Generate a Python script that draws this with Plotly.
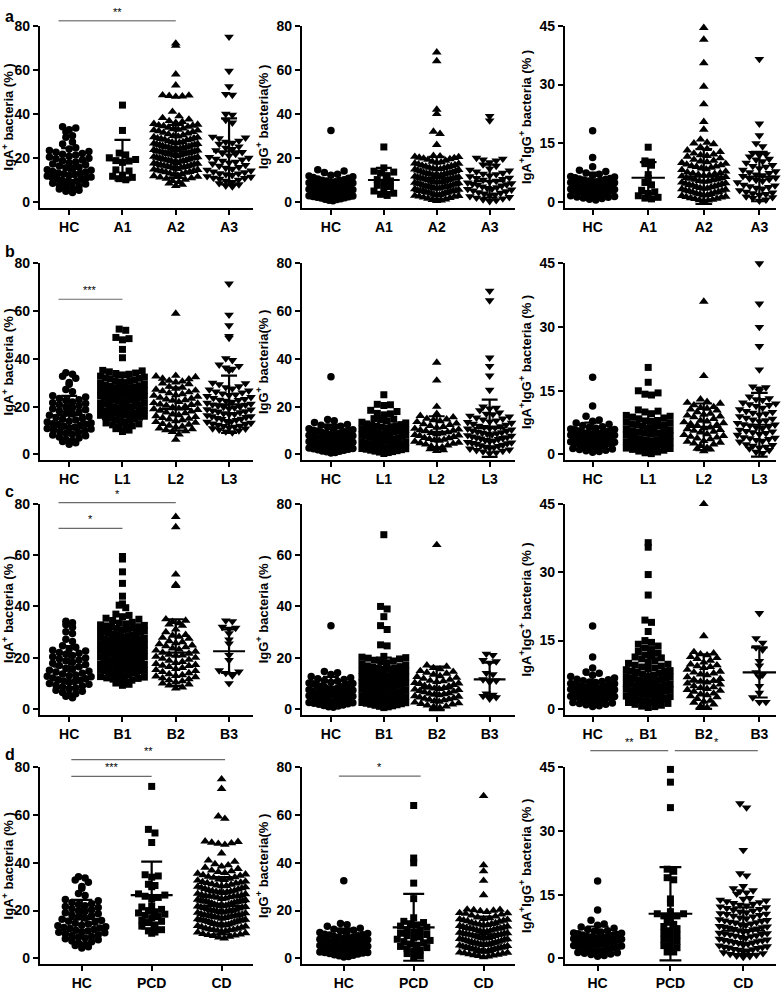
import plotly.graph_objects as go

# ---------------- data ----------------
CATS_A = ["HC", "A1", "A2", "A3"]
CATS_L = ["HC", "L1", "L2", "L3"]
CATS_B = ["HC", "B1", "B2", "B3"]
CATS_D = ["HC", "PCD", "CD"]

# healthy controls (same in every row of a column)
HC_IGA = [34.2, 33.6, 32.8, 31.9, 30.1, 29.4, 27.2, 26.3, 24.6, 24.1, 23.4, 22.9, 22.6, 22.0, 21.7, 21.3,
          20.8, 20.4, 19.9, 19.6, 19.1, 18.7, 18.2, 17.8, 17.3, 16.9, 16.4, 15.8, 15.5, 15.1, 14.7, 14.4,
          13.9, 13.6, 13.2, 12.9, 12.5, 12.1, 11.8, 11.4, 11.1, 10.7, 10.3, 9.9, 9.6, 9.2, 8.9, 8.5, 8.2,
          7.8, 7.3, 6.9, 6.4, 5.9, 5.4, 4.9, 4.3, 12.7, 10.9]
HC_IGG = [32.5, 14.6, 14.1, 13.4, 12.6, 12.2, 11.8, 11.5, 11.1, 10.8, 10.4, 10.1, 9.8, 9.5, 9.2, 8.9, 8.6,
          8.3, 8.0, 7.8, 7.5, 7.3, 7.0, 6.8, 6.5, 6.3, 6.1, 5.8, 5.6, 5.4, 5.1, 4.9, 4.7, 4.5, 4.2, 4.0,
          3.8, 3.6, 3.3, 3.1, 2.9, 2.7, 2.4, 2.2, 2.0, 1.8, 1.5, 1.3, 1.1, 0.8, 0.6, 6.6, 7.7, 8.8, 9.9,
          5.5, 4.4, 3.4, 2.5]
HC_DP = [18.2, 11.4, 9.0, 8.1, 7.8, 7.4, 7.1, 6.8, 6.5, 6.2, 6.0, 5.8, 5.6, 5.4, 5.2, 5.0, 4.9, 4.7, 4.6,
         4.4, 4.3, 4.1, 4.0, 3.9, 3.7, 3.6, 3.5, 3.3, 3.2, 3.0, 2.9, 2.8, 2.6, 2.5, 2.4, 2.2, 2.1, 2.0,
         1.8, 1.7, 1.6, 1.4, 1.3, 1.2, 1.0, 0.9, 0.7, 0.5, 5.5, 4.8, 4.2, 3.8, 3.4, 2.7, 6.4, 5.9, 5.1, 4.5]

# ---- IgA+ bacteria (%) ----
A1_IGA = [44.0, 32.5, 22.2, 21.4, 20.1, 19.3, 18.8, 18.6, 18.0, 14.6, 14.1, 12.2, 11.7, 11.2, 10.6, 10.1]
A2_IGA = [72.0, 71.0, 58.0, 53.0, 48.5, 48.0, 48.2, 47.8, 48.4, 41.0, 39.0, 38.2, 37.5,
          36.8, 36.0, 35.5, 36.4, 35.2, 34.5, 33.8, 34.9, 33.4, 34.2, 33.1, 34.7,
          32.6, 31.9, 32.9, 31.5, 32.2, 30.8, 31.2, 30.4, 32.5,
          30.0, 29.3, 29.8, 28.7, 29.5, 28.4, 29.0, 28.1, 28.9, 27.6, 28.3,
          27.3, 26.8, 27.0, 26.2, 26.6, 25.9, 27.1, 25.5, 26.4, 25.2, 26.0, 25.7,
          25.0, 24.4, 24.8, 23.9, 24.6, 23.5, 24.1, 23.2, 24.9, 23.7, 22.9, 24.3, 23.0,
          22.6, 22.1, 22.8, 21.5, 22.3, 21.2, 22.0, 20.9, 21.7, 20.6, 21.9, 20.4, 21.4, 20.2,
          20.0, 19.4, 19.8, 18.9, 19.6, 18.6, 19.2, 18.3, 19.9, 18.0, 18.7, 17.8, 19.0, 17.6,
          17.3, 16.7, 17.1, 16.2, 16.9, 15.9, 16.5, 15.6, 17.4, 15.3, 16.0, 15.1, 16.3,
          14.8, 14.2, 14.6, 13.7, 14.4, 13.3, 14.0, 13.0, 13.6, 12.7, 12.4, 12.1,
          11.8, 11.2, 11.5, 10.6, 10.9, 10.2, 9.6, 9.1, 8.5, 7.9, 7.3]
A3_IGA = [75.0, 59.5, 52.5, 49.0, 48.6, 40.0, 39.6, 37.2, 36.0, 29.6, 28.9, 29.2, 27.8, 26.9, 27.3, 26.4,
          25.2, 24.0, 24.6, 23.5, 22.6, 21.8, 22.2, 21.1, 20.4, 19.6, 20.0, 19.2, 18.7,
          18.2, 17.4, 17.9, 16.8, 16.4, 15.8, 15.0, 15.5, 14.6, 14.2, 13.8, 13.0, 13.5, 12.6, 12.2, 12.9,
          11.7, 11.0, 11.4, 10.5, 10.1, 10.8, 9.6, 9.0, 8.5, 8.0, 7.4, 7.0]
L1_IGA = [52.5, 52.0, 49.0, 48.5, 48.0, 44.0, 40.5, 35.2, 34.6, 35.0, 34.1,
          33.6, 32.8, 33.3, 32.4, 33.9, 32.1, 31.7, 30.8, 31.2, 30.3, 31.9, 30.1, 30.6,
          29.5, 28.8, 29.1, 28.3, 29.9, 28.0, 28.6, 27.7, 26.8, 27.2, 26.3, 27.9, 26.0, 26.6, 27.4,
          25.7, 24.8, 25.1, 24.3, 25.9, 24.0, 24.6, 25.4, 24.9, 23.5, 22.8, 23.1, 22.4, 23.8, 22.1,
          22.7, 23.3, 22.9, 21.6, 20.7, 21.2, 20.4, 21.9, 20.0, 20.5, 21.4,
          19.6, 18.9, 19.2, 18.3, 19.8, 18.1, 18.6, 19.4, 17.5, 16.8, 17.1, 16.4, 17.9, 16.0, 16.6, 17.3,
          15.6, 14.9, 15.2, 14.3, 15.8, 14.1, 14.6, 13.7, 12.8, 13.2, 12.4, 12.0, 11.5, 10.8, 11.1, 10.2, 9.6]
L2_IGA = [59.0, 33.0, 32.4, 31.8, 32.7, 31.5, 30.6, 29.8, 30.2, 29.5, 30.9, 28.4, 27.6, 28.0, 27.2,
          26.5, 25.7, 26.1, 25.3, 26.8, 24.6, 23.8, 24.2, 23.4, 24.9, 23.1, 22.5, 21.6, 22.0, 21.3, 22.8, 21.0,
          20.5, 19.7, 20.1, 19.3, 20.8, 19.0, 18.4, 17.6, 18.0, 17.3, 18.7, 16.5, 15.7, 16.1, 15.3, 16.8, 15.0,
          14.4, 13.6, 14.0, 13.3, 14.7, 12.5, 11.7, 12.1, 11.3, 12.8, 10.6, 9.8, 10.2, 9.5, 10.9, 8.4, 6.2]
L3_IGA = [71.5, 58.5, 54.0, 49.5, 48.8, 40.2, 39.5, 37.6, 36.4, 37.0, 35.8, 35.2, 30.0, 29.4, 29.8,
          28.5, 27.6, 28.1, 27.2, 26.3, 25.5, 25.9, 25.1, 26.7, 24.4, 23.6, 24.0, 23.2, 24.8, 22.9,
          22.4, 21.6, 22.0, 21.2, 22.8, 20.9, 20.4, 19.6, 20.0, 19.2, 20.8, 18.9, 19.9,
          18.4, 17.6, 18.0, 17.2, 18.8, 16.9, 17.9, 16.4, 15.6, 16.0, 15.2, 16.8, 14.9, 15.9,
          14.4, 13.6, 14.0, 13.2, 14.8, 12.9, 13.9, 12.4, 11.6, 12.0, 11.2, 12.8, 10.9, 11.9,
          10.4, 9.6, 10.0, 9.2, 10.8]
B1_IGA = [59.5, 58.5, 53.5, 49.0, 44.0, 41.0, 40.5, 39.5, 37.0, 36.5, 36.0, 35.0, 34.5, 35.4,
          33.5, 32.8, 33.2, 32.4, 33.8, 32.1, 32.6, 31.6, 30.8, 31.2, 30.4, 31.9, 30.1, 30.6, 31.4,
          29.6, 28.8, 29.2, 28.4, 29.9, 28.1, 28.6, 29.4, 28.9, 27.6, 26.8, 27.2, 26.4, 27.9, 26.1, 26.6, 27.4, 26.9, 27.0,
          25.6, 24.8, 25.2, 24.4, 25.9, 24.1, 24.6, 25.4, 24.9, 25.0, 24.3,
          23.6, 22.8, 23.2, 22.4, 23.9, 22.1, 22.6, 23.4, 22.9, 23.0, 22.3,
          21.6, 20.8, 21.2, 20.4, 21.9, 20.1, 20.6, 21.4, 20.9, 21.0, 20.3,
          19.6, 18.8, 19.2, 18.4, 19.9, 18.1, 18.6, 19.4, 18.9, 19.0, 18.3,
          17.6, 16.8, 17.2, 16.4, 17.9, 16.1, 16.6, 17.4, 16.9, 17.0,
          15.6, 14.8, 15.2, 14.4, 15.9, 14.1, 14.6, 15.4, 14.9, 15.0,
          13.6, 12.8, 13.2, 12.4, 13.9, 12.1, 12.6, 13.4, 11.6, 10.8, 11.2, 10.4, 11.9, 10.1, 9.6, 9.2]
B2_IGA = [75.0, 71.0, 52.5, 48.5, 48.0, 35.0, 34.5, 34.0, 33.5, 32.5, 33.0, 31.0, 30.0,
          28.6, 27.8, 28.2, 27.4, 28.9, 26.5, 25.7, 26.1, 25.3, 24.5, 23.6, 24.1, 23.2, 24.8,
          22.4, 21.6, 22.0, 21.2, 22.8, 20.9, 20.4, 19.6, 20.0, 19.2, 20.8,
          18.4, 17.6, 18.0, 17.2, 18.8, 16.9, 16.4, 15.6, 16.0, 15.2, 16.8,
          14.4, 13.6, 14.0, 13.2, 14.8, 12.9, 12.4, 11.6, 12.0, 11.2, 12.7,
          10.4, 9.6, 10.0, 9.2, 10.8, 8.4, 8.0]
B3_IGA = [34.5, 34.2, 32.0, 31.6, 31.2, 29.5, 27.0, 25.5, 21.0, 19.0, 15.0, 14.5, 14.0, 13.0, 10.0]
PCD_IGA = [72.0, 54.0, 52.5, 48.5, 35.0, 34.5, 34.0, 31.0, 30.5, 30.0, 27.0, 26.5, 26.0, 25.5, 25.0,
           22.0, 21.5, 20.5, 20.0, 19.5, 19.0, 18.5, 18.0, 17.5, 17.0, 16.0, 15.5, 15.0, 14.0, 13.5,
           12.0, 11.5, 11.0, 10.5]
CD_IGA = [75.0, 71.0, 59.5, 58.5, 49.0, 48.8, 48.2, 48.0, 47.6, 48.5, 44.0, 41.0, 40.5,
          39.5, 39.0, 38.5, 38.0, 37.5, 36.5, 35.8, 36.2, 35.5, 36.8, 35.2,
          34.6, 33.8, 34.2, 33.4, 34.9, 33.1, 34.0, 32.6, 31.8, 32.2, 31.4, 32.9, 31.1, 32.0, 31.6,
          30.6, 29.8, 30.2, 29.4, 30.9, 29.1, 30.0, 29.6, 30.4,
          28.6, 27.8, 28.2, 27.4, 28.9, 27.1, 28.0, 27.6, 28.4, 27.9,
          26.6, 25.8, 26.2, 25.4, 26.9, 25.1, 26.0, 25.6, 26.4, 25.9, 26.1,
          24.6, 23.8, 24.2, 23.4, 24.9, 23.1, 24.0, 23.6, 24.4, 23.9, 24.1, 23.3,
          22.6, 21.8, 22.2, 21.4, 22.9, 21.1, 22.0, 21.6, 22.4, 21.9, 22.1, 21.3,
          20.6, 19.8, 20.2, 19.4, 20.9, 19.1, 20.0, 19.6, 20.4, 19.9, 20.1, 19.3,
          18.6, 17.8, 18.2, 17.4, 18.9, 17.1, 18.0, 17.6, 18.4, 17.9, 18.1, 17.3,
          16.6, 15.8, 16.2, 15.4, 16.9, 15.1, 16.0, 15.6, 16.4, 15.9, 16.1, 15.3,
          14.6, 13.8, 14.2, 13.4, 14.9, 13.1, 14.0, 13.6, 14.4, 13.9, 14.1,
          12.6, 11.8, 12.2, 11.4, 12.9, 11.1, 12.0, 11.6, 12.4, 11.9,
          10.6, 9.8, 10.2, 9.4, 10.9, 9.1, 10.0, 9.6, 8.8, 8.4]

# ---- IgG+ bacteria (%) ----
A1_IGG = [25.0, 15.5, 14.0, 13.6, 13.2, 12.0, 10.2, 9.6, 9.0, 7.6, 7.0, 6.5, 5.0, 4.0, 3.5, 3.0]
A2_IGG = [68.0, 64.0, 42.0, 40.0, 32.0, 31.0, 26.0, 21.0, 20.8, 20.5, 20.2, 20.0, 20.6,
          19.5, 18.8, 19.2, 18.4, 19.8, 18.1, 17.6, 16.8, 17.2, 16.4, 17.9, 16.1, 16.6, 17.4,
          15.6, 14.8, 15.2, 14.4, 15.9, 14.1, 14.6, 15.4, 14.9, 15.0,
          13.6, 12.8, 13.2, 12.4, 13.9, 12.1, 12.6, 13.4, 12.9, 13.0, 12.3,
          11.6, 10.8, 11.2, 10.4, 11.9, 10.1, 10.6, 11.4, 10.9, 11.0, 10.3,
          9.6, 8.8, 9.2, 8.4, 9.9, 8.1, 8.6, 9.4, 8.9, 9.0, 8.3, 9.1,
          7.6, 6.8, 7.2, 6.4, 7.9, 6.1, 6.6, 7.4, 6.9, 7.0, 6.3, 7.1,
          5.6, 4.8, 5.2, 4.4, 5.9, 4.1, 4.6, 5.4, 4.9, 5.0, 4.3, 5.1,
          3.6, 2.8, 3.2, 2.4, 3.9, 2.1, 2.6, 3.4, 2.9, 3.0, 1.6, 0.8, 1.2, 0.5, 1.9, 1.0]
A3_IGG = [39.0, 37.0, 20.0, 19.6, 19.2, 18.8, 18.0, 17.0, 16.4, 15.2, 14.6, 14.2, 13.8,
          13.2, 12.6, 12.0, 11.6, 12.8, 11.0, 10.4, 10.0, 9.6, 10.8, 9.2,
          8.8, 8.2, 7.8, 7.4, 8.5, 7.0, 8.0, 6.6, 6.0, 5.6, 5.2, 6.3, 4.8, 5.9,
          4.4, 3.8, 3.4, 3.0, 4.1, 2.6, 2.2, 1.6, 1.2, 0.8, 1.9, 0.4]
L1_IGG = [25.0, 21.0, 20.8, 20.5, 18.5, 18.0, 17.0, 17.2, 16.6, 15.0, 14.5, 14.0, 13.5, 14.8, 13.2,
          12.8, 12.2, 11.8, 11.4, 12.5, 11.0, 12.0, 11.6, 10.8, 10.2, 9.8, 9.4, 10.5, 9.0, 10.0, 9.6, 10.4,
          8.8, 8.2, 7.8, 7.4, 8.5, 7.0, 8.0, 7.6, 8.4, 6.8, 6.2, 5.8, 5.4, 6.5, 5.0, 6.0, 5.6, 6.4,
          4.8, 4.2, 3.8, 3.4, 4.5, 3.0, 4.0, 3.6, 4.4, 2.8, 2.2, 1.8, 1.4, 2.5, 1.0, 2.0, 1.6, 2.4,
          0.8, 0.4, 1.2]
L2_IGG = [38.5, 31.0, 20.0, 17.0, 16.2, 15.6, 15.0, 14.4, 14.0, 13.6, 14.7, 13.0, 12.4, 12.0, 11.6, 12.7, 11.2,
          10.8, 10.2, 9.8, 9.4, 10.5, 9.0, 10.0, 8.8, 8.2, 7.8, 7.4, 8.5, 7.0, 8.0,
          6.8, 6.2, 5.8, 5.4, 6.5, 5.0, 6.0, 4.8, 4.2, 3.8, 3.4, 4.5, 3.0, 2.8, 2.2, 1.8, 1.5]
L3_IGG = [68.5, 64.5, 40.5, 37.0, 33.0, 27.0, 20.0, 19.5, 19.2, 18.5, 17.5, 16.8, 16.2, 17.0,
          15.8, 15.0, 14.6, 14.2, 15.4, 13.8, 13.2, 12.8, 12.4, 13.5, 12.0,
          11.8, 11.2, 10.8, 10.4, 11.5, 10.0, 11.0, 9.8, 9.2, 8.8, 8.4, 9.5, 8.0, 9.0, 8.6,
          7.8, 7.2, 6.8, 6.4, 7.5, 6.0, 7.0, 6.6, 5.8, 5.2, 4.8, 4.4, 5.5, 4.0, 5.0, 4.6,
          3.8, 3.2, 2.8, 2.4, 3.5, 2.0, 3.0, 1.8, 1.2, 0.8, 0.5, 1.5]
B1_IGG = [68.0, 40.0, 39.0, 36.0, 32.5, 31.0, 25.0, 24.6, 20.5, 20.0, 19.5, 19.8, 20.2,
          19.0, 18.4, 18.0, 17.6, 18.7, 17.2, 16.8, 16.2, 15.8, 15.4, 16.5, 15.0, 16.0, 15.6,
          14.8, 14.2, 13.8, 13.4, 14.5, 13.0, 14.0, 13.6, 14.4,
          12.8, 12.2, 11.8, 11.4, 12.5, 11.0, 12.0, 11.6, 12.4, 11.2,
          10.8, 10.2, 9.8, 9.4, 10.5, 9.0, 10.0, 9.6, 10.4, 9.2,
          8.8, 8.2, 7.8, 7.4, 8.5, 7.0, 8.0, 7.6, 8.4, 7.2,
          6.8, 6.2, 5.8, 5.4, 6.5, 5.0, 6.0, 5.6, 6.4, 5.2,
          4.8, 4.2, 3.8, 3.4, 4.5, 3.0, 4.0, 3.6, 4.4, 3.2,
          2.8, 2.2, 1.8, 1.4, 2.5, 1.0, 2.0, 1.6, 2.4, 0.8, 0.5, 1.2]
B2_IGG = [64.0, 17.0, 16.5, 16.0, 15.5, 14.8, 14.2, 13.8, 14.5, 13.4, 12.8, 12.2, 11.8, 11.4, 12.5, 11.0,
          10.8, 10.2, 9.8, 9.4, 10.5, 9.0, 10.0, 8.8, 8.2, 7.8, 7.4, 8.5, 7.0, 8.0, 7.6,
          6.8, 6.2, 5.8, 5.4, 6.5, 5.0, 6.0, 5.6, 4.8, 4.2, 3.8, 3.4, 4.5, 3.0, 4.0, 3.6,
          2.8, 2.2, 1.8, 1.4, 2.5, 1.0, 2.0, 0.8, 0.4]
B3_IGG = [21.5, 21.0, 19.0, 18.5, 18.0, 14.0, 13.5, 11.5, 11.0, 10.5, 6.0, 5.5, 5.0, 4.5, 4.0]
PCD_IGG = [64.0, 42.0, 40.0, 31.5, 25.0, 17.0, 15.5, 15.0, 14.5, 14.0, 13.5, 13.0, 12.0, 11.5, 11.0,
           10.5, 10.0, 9.5, 9.0, 8.5, 8.0, 7.5, 7.0, 6.5, 6.0, 5.5, 5.0, 4.5, 4.0, 3.5, 3.0, 2.0, 1.0, 0.5]
CD_IGG = [68.0, 39.0, 36.5, 32.5, 26.5, 20.5, 20.0, 19.8, 20.2, 19.5, 20.4,
          19.0, 18.4, 18.0, 17.6, 18.7, 17.2, 18.9, 16.8, 16.2, 15.8, 15.4, 16.5, 15.0, 16.0, 15.6, 16.4,
          14.8, 14.2, 13.8, 13.4, 14.5, 13.0, 14.0, 13.6, 14.4, 13.2,
          12.8, 12.2, 11.8, 11.4, 12.5, 11.0, 12.0, 11.6, 12.4, 11.2, 12.6,
          10.8, 10.2, 9.8, 9.4, 10.5, 9.0, 10.0, 9.6, 10.4, 9.2, 10.6, 9.9,
          8.8, 8.2, 7.8, 7.4, 8.5, 7.0, 8.0, 7.6, 8.4, 7.2, 8.6, 7.9,
          6.8, 6.2, 5.8, 5.4, 6.5, 5.0, 6.0, 5.6, 6.4, 5.2, 6.6, 5.9,
          4.8, 4.2, 3.8, 3.4, 4.5, 3.0, 4.0, 3.6, 4.4, 3.2, 4.6, 3.9,
          2.8, 2.2, 1.8, 1.4, 2.5, 1.0, 2.0, 1.6, 2.4, 1.2, 0.8, 0.5]

# ---- IgA+IgG+ bacteria (%) ----
A1_DP = [14.0, 10.5, 10.2, 9.8, 9.4, 7.0, 6.0, 5.0, 4.4, 3.0, 2.6, 2.2, 1.6, 1.2, 1.0, 0.8]
A2_DP = [44.5, 41.5, 35.5, 29.5, 25.0, 20.5, 18.5, 16.0, 15.2, 15.0, 14.8, 14.0, 13.6, 13.2, 12.8,
         12.4, 12.0, 11.6, 11.2, 12.2, 11.8, 10.8, 10.4, 10.0, 9.6, 10.6, 10.2, 9.8,
         9.4, 9.0, 8.6, 8.2, 9.2, 8.8, 8.4, 9.1, 7.8, 7.4, 7.0, 6.6, 7.6, 7.2, 6.8, 7.3, 6.9,
         6.4, 6.0, 5.6, 5.2, 6.2, 5.8, 5.4, 6.1, 5.7, 5.3, 5.0, 4.6, 4.2, 3.8, 4.8, 4.4, 4.0, 4.7, 4.3, 3.9,
         3.6, 3.2, 2.8, 2.4, 3.4, 3.0, 2.6, 3.3, 2.9, 2.5, 3.5, 2.2, 1.8, 1.4, 1.0, 2.0, 1.6, 1.2, 2.1, 1.7,
         1.3, 0.9, 0.8, 0.5, 0.3, 0.6, 0.4]
A3_DP = [36.5, 20.0, 17.0, 15.0, 14.2, 12.5, 12.0, 12.2, 11.6, 11.0, 10.4, 10.0, 10.8,
         9.4, 9.0, 8.6, 9.2, 8.2, 7.8, 7.4, 7.0, 6.6, 7.6, 6.8, 6.2, 5.8, 5.4, 5.0, 6.0, 5.6,
         4.6, 4.2, 3.8, 3.4, 4.4, 4.0, 3.6, 3.0, 2.6, 2.2, 1.8, 2.8, 2.4, 2.0, 1.4, 1.0, 0.6, 0.3, 1.2]
L1_DP = [20.5, 17.0, 15.0, 14.5, 14.2, 14.0, 10.5, 10.2, 10.0, 9.6, 9.2, 8.8, 8.4, 8.0, 9.0, 8.6,
         7.6, 7.2, 6.8, 6.4, 7.4, 7.0, 6.6, 7.8, 6.0, 5.6, 5.2, 4.8, 5.8, 5.4, 5.0, 6.2,
         4.4, 4.0, 3.6, 3.2, 4.2, 3.8, 3.4, 4.6, 3.0, 2.8, 2.4, 2.0, 1.6, 2.6, 2.2, 1.8, 2.9, 2.5, 2.1,
         1.2, 0.8, 0.4, 1.0, 0.6, 1.4, 0.2, 3.1, 2.7, 1.9, 4.1, 5.1, 3.5, 2.3, 1.5, 6.9, 7.9]
L2_DP = [36.0, 18.5, 13.0, 12.4, 12.0, 11.6, 12.2, 11.2, 10.8, 10.4, 10.0, 11.0, 10.6,
         9.6, 9.2, 8.8, 8.4, 9.4, 9.0, 8.0, 7.6, 7.2, 6.8, 7.8, 7.4, 7.0, 6.4, 6.0, 5.6, 5.2, 6.2, 5.8, 5.4,
         4.8, 4.4, 4.0, 3.6, 4.6, 4.2, 3.8, 3.2, 2.8, 2.4, 2.0, 3.0, 2.6, 1.6, 1.2, 0.8, 1.4]
L3_DP = [45.0, 35.5, 30.0, 25.5, 20.0, 16.0, 15.8, 15.5, 15.0, 13.6, 13.2, 12.8, 13.0,
         12.2, 11.8, 11.4, 11.0, 12.0, 11.6, 10.6, 10.2, 9.8, 9.4, 10.4, 10.0, 9.6,
         9.0, 8.6, 8.2, 7.8, 8.8, 8.4, 8.0, 7.4, 7.0, 6.6, 6.2, 7.2, 6.8, 6.4, 7.1,
         5.8, 5.4, 5.0, 4.6, 5.6, 5.2, 4.8, 5.5, 4.2, 3.8, 3.4, 3.0, 4.0, 3.6, 3.2, 3.9,
         2.6, 2.2, 1.8, 1.4, 2.4, 2.0, 1.6, 1.0, 0.6, 0.3]
B1_DP = [36.5, 35.5, 29.5, 25.0, 19.5, 19.0, 17.0, 15.0, 14.6, 14.2, 13.8, 13.4, 13.0, 12.6, 12.2,
         11.8, 11.4, 11.0, 10.6, 11.6, 11.2, 10.2, 9.8, 9.4, 9.0, 10.0, 9.6, 9.2,
         8.6, 8.2, 7.8, 7.4, 8.4, 8.0, 7.6, 8.8, 7.0, 6.6, 6.2, 5.8, 6.8, 6.4, 6.0, 7.2, 6.5,
         5.4, 5.0, 4.6, 4.2, 5.2, 4.8, 4.4, 5.6, 4.9, 3.8, 3.4, 3.0, 2.6, 3.6, 3.2, 2.8, 4.0, 3.3,
         2.2, 1.8, 1.4, 1.0, 2.0, 1.6, 1.2, 2.4, 1.7, 0.8, 0.5, 0.3, 0.6,
         7.1, 6.3, 5.5, 4.7, 3.9, 3.1, 2.3, 1.5, 5.9, 4.3, 2.7, 1.9, 8.3, 6.7]
B2_DP = [45.0, 16.0, 12.5, 12.0, 11.8, 12.2, 11.4, 11.0, 10.6, 10.2, 11.2, 9.8, 9.4, 9.0, 8.6, 9.6, 9.2,
         8.2, 7.8, 7.4, 7.0, 8.0, 7.6, 6.6, 6.2, 5.8, 5.4, 6.4, 6.0, 5.6, 5.0, 4.6, 4.2, 3.8, 4.8, 4.4, 4.0,
         3.4, 3.0, 2.6, 2.2, 3.2, 2.8, 1.8, 1.4, 1.0, 0.6, 1.6, 0.3]
B3_DP = [21.0, 15.5, 14.5, 13.5, 13.0, 10.5, 9.5, 8.0, 7.5, 7.0, 5.0, 3.5, 2.5, 1.5, 1.5]
PCD_DP = [44.5, 41.5, 35.5, 21.0, 20.5, 19.0, 18.5, 14.0, 13.0, 11.0, 10.5, 10.5, 10.0, 10.0, 9.5,
          8.5, 8.0, 7.5, 7.0, 6.5, 6.0, 5.5, 5.0, 4.5, 4.0, 3.5, 3.0, 2.5, 2.0, 1.5, 1.5]
CD_DP = [36.5, 35.5, 25.5, 20.0, 19.5, 17.0, 16.5, 16.0, 15.5, 15.8, 15.2,
         14.2, 13.8, 13.4, 13.0, 14.0, 13.6, 13.2, 12.6, 12.2, 11.8, 11.4, 12.4, 12.0, 11.6, 12.8,
         11.0, 10.6, 10.2, 9.8, 10.8, 10.4, 10.0, 11.2, 10.5, 9.4, 9.0, 8.6, 8.2, 9.2, 8.8, 8.4, 9.6, 8.9, 8.5,
         7.8, 7.4, 7.0, 6.6, 7.6, 7.2, 6.8, 8.0, 7.3, 6.9, 7.5, 6.2, 5.8, 5.4, 5.0, 6.0, 5.6, 5.2, 6.4, 5.7, 5.3, 5.9,
         4.6, 4.2, 3.8, 3.4, 4.4, 4.0, 3.6, 4.8, 4.1, 3.7, 4.3, 3.0, 2.6, 2.2, 1.8, 2.8, 2.4, 2.0, 3.2, 2.5, 2.1, 2.7,
         1.4, 1.0, 0.6, 0.3, 1.2, 0.8, 1.6, 0.5]

# mean and SD bars as drawn
MEAN_A_IGA, SD_A_IGA = [16.5, 19.0, 23.0, 23.0], [8.0, 9.2, 12.0, 15.0]
MEAN_L_IGA, SD_L_IGA = [16.5, 22.5, 19.0, 21.0], [8.0, 10.0, 9.0, 12.0]
MEAN_B_IGA, SD_B_IGA = [16.5, 22.0, 22.0, 22.5], [8.0, 9.5, 13.0, 8.5]
MEAN_D_IGA, SD_D_IGA = [16.5, 26.5, 22.0], [8.0, 14.0, 12.0]
MEAN_A_IGG, SD_A_IGG = [7.0, 10.0, 11.0, 9.5], [5.5, 5.5, 9.5, 7.5]
MEAN_L_IGG, SD_L_IGG = [7.0, 9.5, 9.5, 11.0], [5.5, 6.5, 6.5, 12.0]
MEAN_B_IGG, SD_B_IGG = [7.0, 12.0, 8.0, 11.5], [5.5, 8.0, 8.5, 6.5]
MEAN_D_IGG, SD_D_IGG = [7.0, 13.0, 10.0], [5.5, 14.0, 7.5]
MEAN_A_DP, SD_A_DP = [4.3, 6.2, 6.5, 6.5], [3.2, 4.0, 7.0, 6.3]
MEAN_L_DP, SD_L_DP = [4.3, 5.5, 6.5, 7.0], [3.2, 4.5, 5.5, 7.5]
MEAN_B_DP, SD_B_DP = [4.3, 7.5, 6.0, 8.0], [3.2, 6.0, 6.0, 5.5]
MEAN_D_DP, SD_D_DP = [4.3, 10.5, 6.5], [3.2, 11.0, 5.5]

Y_TICKS_80 = [0, 20, 40, 60, 80]
Y_TICKS_45 = [0, 15, 30, 45]

# ---------------- layout geometry (page pixels) ----------------
W, H = 784, 995
COLS = [(37, 251), (300, 514), (564, 776)]
XR = {4: [(-0.55, 3.45), (-0.55, 3.48), (-0.5, 3.3)],
      3: [(-0.6, 2.45), (-0.6, 2.45), (-0.45, 2.45)]}
ROWS = [dict(top=18, zero=196, axis=202),
        dict(top=258, zero=451, axis=457),
        dict(top=501, zero=708, axis=714),
        dict(top=767, zero=960, axis=966)]

SYM4 = ["circle", "square", "triangle-up", "triangle-down"]
SYM3 = ["circle", "square", "triangle-up"]
SYM3b = ["circle", "square", "triangle-down"]
MSIZE = {"circle": 7.5, "square": 7, "triangle-up": 8.5, "triangle-down": 8.5}

T_IGA = "IgA<sup>+</sup> bacteria (% )"
T_IGG1 = "IgG<sup>+</sup> bacteria(% )"
T_IGG2 = "IgG<sup>+</sup> bacteria (% )"
T_DP = "IgA<sup>+</sup>IgG<sup>+</sup> bacteria (% )"

PANELS = [
    (0, 0, CATS_A, [HC_IGA, A1_IGA, A2_IGA, A3_IGA], SYM4, MEAN_A_IGA, SD_A_IGA, 80, T_IGA),
    (0, 1, CATS_A, [HC_IGG, A1_IGG, A2_IGG, A3_IGG], SYM4, MEAN_A_IGG, SD_A_IGG, 80, T_IGG1),
    (0, 2, CATS_A, [HC_DP, A1_DP, A2_DP, A3_DP], SYM4, MEAN_A_DP, SD_A_DP, 45, T_DP),
    (1, 0, CATS_L, [HC_IGA, L1_IGA, L2_IGA, L3_IGA], SYM4, MEAN_L_IGA, SD_L_IGA, 80, T_IGA),
    (1, 1, CATS_L, [HC_IGG, L1_IGG, L2_IGG, L3_IGG], SYM4, MEAN_L_IGG, SD_L_IGG, 80, T_IGG1),
    (1, 2, CATS_L, [HC_DP, L1_DP, L2_DP, L3_DP], SYM4, MEAN_L_DP, SD_L_DP, 45, T_DP),
    (2, 0, CATS_B, [HC_IGA, B1_IGA, B2_IGA, B3_IGA], SYM4, MEAN_B_IGA, SD_B_IGA, 80, T_IGA),
    (2, 1, CATS_B, [HC_IGG, B1_IGG, B2_IGG, B3_IGG], SYM4, MEAN_B_IGG, SD_B_IGG, 80, T_IGG2),
    (2, 2, CATS_B, [HC_DP, B1_DP, B2_DP, B3_DP], SYM4, MEAN_B_DP, SD_B_DP, 45, T_DP),
    (3, 0, CATS_D, [HC_IGA, PCD_IGA, CD_IGA], SYM3, MEAN_D_IGA, SD_D_IGA, 80, T_IGA),
    (3, 1, CATS_D, [HC_IGG, PCD_IGG, CD_IGG], SYM3, MEAN_D_IGG, SD_D_IGG, 80, T_IGG1),
    (3, 2, CATS_D, [HC_DP, PCD_DP, CD_DP], SYM3b, MEAN_D_DP, SD_D_DP, 45, T_DP),
]

# significance bars: (row, col, from, to, y value, label, colour, width)
SIG = [
    (0, 0, -0.2, 2.0, 82.3, "**", "#8a8a8a", 1.6),
    (1, 0, -0.2, 1.0, 65.0, "***", "#6a6a6a", 1.2),
    (2, 0, -0.2, 2.0, 80.5, "*", "#6a6a6a", 1.2),
    (2, 0, -0.2, 1.0, 70.5, "*", "#6a6a6a", 1.2),
    (3, 0, -0.15, 2.05, 83.2, "**", "#6a6a6a", 1.2),
    (3, 0, -0.15, 1.0, 76.2, "***", "#6a6a6a", 1.2),
    (3, 1, -0.07, 1.1, 76.3, "*", "#6a6a6a", 1.2),
    (3, 2, -0.1, 0.97, 48.9, "**", "#444444", 1.0),
    (3, 2, 1.06, 2.2, 48.9, "*", "#444444", 1.0),
]
LETTERS = [("a", 9), ("b", 246), ("c", 488), ("d", 754)]

TICKFONT = dict(family="Liberation Sans, Arial, sans-serif", size=14, color="black", weight="bold")
TITLEFONT = dict(family="Liberation Sans, Arial, sans-serif", size=13, color="black", weight="bold")


def swarm(vals, center, ppu_x, ppu_y, bin_px=6.6, step_px=6.6, maxhalf_px=22.0):
    h = bin_px / ppu_y
    bins = {}
    for v in vals:
        bins.setdefault(int(v // h), []).append(v)
    xs, ys = [], []
    for b in sorted(bins):
        vs = sorted(bins[b])
        n = len(vs)
        step = step_px
        if n > 1 and (n - 1) * step / 2 > maxhalf_px:
            step = 2 * maxhalf_px / (n - 1)
        offs = []
        if n % 2 == 1:
            offs.append(0.0)
            k = 1
            while len(offs) < n:
                offs.append(k)
                if len(offs) < n:
                    offs.append(-k)
                k += 1
        else:
            k = 0.5
            while len(offs) < n:
                offs.append(k)
                offs.append(-k)
                k += 1
        for v, o in zip(vs, offs):
            xs.append(center + o * step / ppu_x)
            ys.append(v)
    return xs, ys


def fx(px):
    return px / W


def fy(px):
    return 1 - px / H


fig = go.Figure()
layout = dict(width=W, height=H, margin=dict(l=0, r=0, t=0, b=0), showlegend=False,
              plot_bgcolor="white", paper_bgcolor="white")
shapes, annotations = [], []

for k, (r, c, cats, groups, syms, means, sds, ymax, ytitle) in enumerate(PANELS, start=1):
    row = ROWS[r]
    n = len(cats)
    xr = XR[n][c]
    x0, x1 = COLS[c]
    ppu_x = (x1 - x0) / (xr[1] - xr[0])
    ppu_y = (row["zero"] - row["top"]) / ymax
    ybot = -(row["axis"] - row["zero"]) / ppu_y
    xa = "x" if k == 1 else f"x{k}"
    ya = "y" if k == 1 else f"y{k}"
    maxhalf = 22.0 if n == 4 else 24.0
    for gi, vals in enumerate(groups):
        xs, ys = swarm(vals, gi, ppu_x, ppu_y, maxhalf_px=maxhalf)
        fig.add_trace(go.Scatter(x=xs, y=ys, mode="markers", xaxis=xa, yaxis=ya,
                                 marker=dict(symbol=syms[gi], size=MSIZE[syms[gi]], color="black",
                                             line=dict(width=0)),
                                 hoverinfo="y", cliponaxis=False))
    lx, ly = [], []
    for gi, (m, s) in enumerate(zip(means, sds)):
        lx += [gi - 0.3, gi + 0.3, None, gi, gi, None, gi - 0.15, gi + 0.15, None, gi - 0.15, gi + 0.15, None]
        ly += [m, m, None, m - s, m + s, None, m + s, m + s, None, m - s, m - s, None]
    fig.add_trace(go.Scatter(x=lx, y=ly, mode="lines", xaxis=xa, yaxis=ya,
                             line=dict(color="black", width=2.2), hoverinfo="skip"))
    layout["xaxis" if k == 1 else f"xaxis{k}"] = dict(
        domain=[fx(x0), fx(x1)], range=list(xr), anchor=ya, showgrid=False, zeroline=False,
        showline=True, linecolor="black", linewidth=2, ticks="outside", ticklen=5, tickwidth=1.5,
        tickcolor="black", tickvals=list(range(n)), ticktext=cats, tickfont=TICKFONT, fixedrange=True)
    layout["yaxis" if k == 1 else f"yaxis{k}"] = dict(
        domain=[fy(row["axis"]), fy(row["top"])], range=[ybot, ymax], anchor=xa,
        showgrid=False, zeroline=False, showline=True, linecolor="black", linewidth=2,
        ticks="outside", ticklen=5, tickwidth=1.5, tickcolor="black",
        tickvals=Y_TICKS_80 if ymax == 80 else Y_TICKS_45, tickfont=TICKFONT,
        title=dict(text=ytitle, font=TITLEFONT, standoff=5), fixedrange=True)


def ypx(r, ymax, v):
    row = ROWS[r]
    return row["zero"] - v * (row["zero"] - row["top"]) / ymax


def xpx(c, n, u):
    xr = XR[n][c]
    x0, x1 = COLS[c]
    return x0 + (u - xr[0]) / (xr[1] - xr[0]) * (x1 - x0)


for (r, c, a, b, yv, lab, col, lw) in SIG:
    n = 3 if r == 3 else 4
    ymax = 45 if c == 2 else 80
    py = ypx(r, ymax, yv)
    pa, pb = xpx(c, n, a), xpx(c, n, b)
    shapes.append(dict(type="line", xref="paper", yref="paper", x0=fx(pa), x1=fx(pb),
                       y0=fy(py), y1=fy(py), line=dict(color=col, width=lw)))
    annotations.append(dict(xref="paper", yref="paper", x=fx((pa + pb) / 2), y=fy(py - 1),
                            text=lab, showarrow=False, xanchor="center", yanchor="bottom",
                            font=dict(family="Liberation Sans, Arial, sans-serif", size=11, color="black")))

for lab, py in LETTERS:
    annotations.append(dict(xref="paper", yref="paper", x=0, y=fy(py), text=lab,
                            showarrow=False, xanchor="left", yanchor="middle",
                            font=dict(family="Liberation Sans, Arial, sans-serif", size=16,
                                      color="black", weight="bold")))

layout["shapes"] = shapes
layout["annotations"] = annotations
fig.update_layout(**layout)
# the page's default 8px body margin would push the 784x995 figure partly out of the window
fig.write_html("out.html", config={"displayModeBar": False},
               post_script="document.body.style.margin='0px';")
